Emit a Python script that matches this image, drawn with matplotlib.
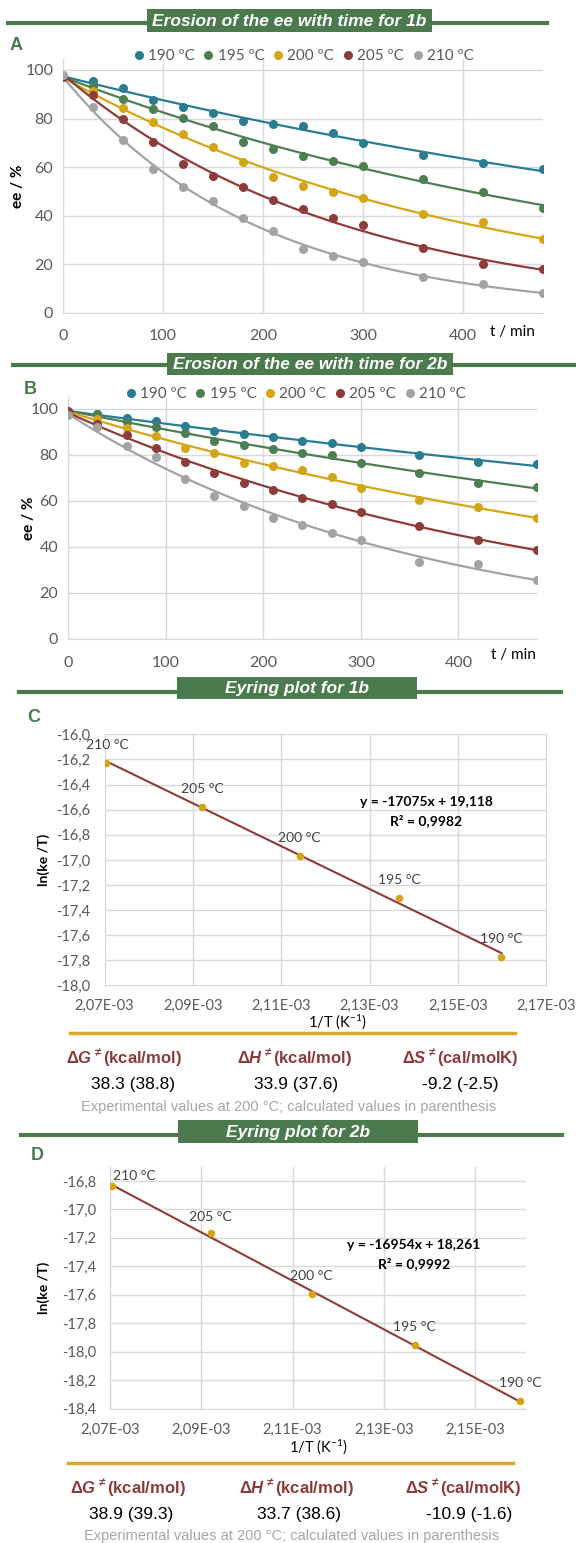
import numpy as np
import matplotlib
matplotlib.use("Agg")
import matplotlib.pyplot as plt
from matplotlib.patches import Rectangle
from matplotlib.lines import Line2D
from matplotlib.ticker import FixedLocator, FuncFormatter

plt.rcParams['mathtext.fontset'] = 'custom'
plt.rcParams['mathtext.it'] = 'Liberation Sans:bold:italic'
plt.rcParams['mathtext.rm'] = 'Liberation Sans:bold'
plt.rcParams['mathtext.bf'] = 'Liberation Sans:bold'

# ---------------- data ----------------
temps_label = ["190 ºC", "195 ºC", "200 ºC", "205 ºC", "210 ºC"]
times = [0, 30, 60, 90, 120, 150, 180, 210, 240, 270, 300, 360, 420, 480]

ee_1b_190 = [97.5, 95.5, 92.4, 87.8, 84.8, 82.2, 79.0, 77.9, 77.0, 74.1, 70.1, 65.0, 61.7, 59.3]
ee_1b_195 = [97.5, 93.5, 87.9, 84.0, 80.3, 76.8, 70.3, 67.6, 64.6, 62.3, 60.4, 55.2, 49.9, 43.3]
ee_1b_200 = [97.5, 91.5, 84.3, 78.6, 73.8, 68.3, 62.1, 56.0, 52.3, 49.9, 47.1, 40.7, 37.2, 30.2]
ee_1b_205 = [97.0, 89.5, 79.7, 70.3, 61.4, 56.3, 51.7, 46.4, 42.7, 39.1, 36.1, 26.5, 20.1, 18.1]
ee_1b_210 = [97.8, 84.9, 71.0, 59.0, 51.7, 46.2, 38.9, 33.7, 26.1, 23.4, 21.0, 14.8, 11.7, 8.0]

ee_2b_190 = [98.5, 97.7, 96.0, 94.6, 92.5, 90.6, 89.1, 88.0, 86.2, 85.1, 83.6, 80.0, 77.1, 75.9]
ee_2b_195 = [98.5, 97.6, 94.5, 92.0, 89.4, 86.2, 84.2, 82.6, 81.0, 80.0, 76.7, 72.3, 67.7, 66.1]
ee_2b_200 = [98.5, 95.5, 91.9, 88.3, 83.2, 81.0, 76.4, 75.4, 73.5, 70.3, 65.8, 60.4, 57.5, 52.8]
ee_2b_205 = [99.0, 93.5, 88.7, 82.9, 77.0, 72.0, 68.0, 64.8, 61.2, 58.6, 55.4, 49.3, 43.2, 38.8]
ee_2b_210 = [97.5, 92.3, 84.0, 79.0, 69.4, 62.2, 58.0, 52.8, 49.4, 46.1, 43.2, 33.5, 32.8, 25.5]

eyring_T = [210, 205, 200, 195, 190]          # °C
eyring_lbl = ["210 °C", "205 °C", "200 °C", "195 °C", "190 °C"]
ln_ke_T_1b = [-16.225, -16.58, -16.97, -17.306, -17.77]
ln_ke_T_2b = [-16.837, -17.169, -17.595, -17.955, -18.348]
eq_1b = ["y = -17075x + 19,118", "R² = 0,9982"]
eq_2b = ["y = -16954x + 18,261", "R² = 0,9992"]

ee_yticks = [0, 20, 40, 60, 80, 100]
ee_xticks = [0, 100, 200, 300, 400]
c_yticks = [-18.0, -17.8, -17.6, -17.4, -17.2, -17.0, -16.8, -16.6, -16.4, -16.2, -16.0]
c_xticks = [2.07e-3, 2.09e-3, 2.11e-3, 2.13e-3, 2.15e-3, 2.17e-3]
d_yticks = [-18.4, -18.2, -18.0, -17.8, -17.6, -17.4, -17.2, -17.0, -16.8]
d_xticks = [2.07e-3, 2.09e-3, 2.11e-3, 2.13e-3, 2.15e-3]

table_head = [r"$\mathit{\Delta G}^{\neq}$(kcal/mol)", r"$\mathit{\Delta H}^{\neq}$(kcal/mol)",
              r"$\mathit{\Delta S}^{\neq}$(cal/molK)"]
table_1b = ["38.3 (38.8)", "33.9 (37.6)", "-9.2 (-2.5)"]
table_2b = ["38.9 (39.3)", "33.7 (38.6)", "-10.9 (-1.6)"]
note = "Experimental values at 200 °C; calculated values in parenthesis"

# ---------------- style ----------------
W, H = 576, 1543
fig = plt.figure(figsize=(W / 100, H / 100), dpi=100)
series_colors = ['#2A7C92', '#4E7F52', '#D4A516', '#8E3B3B', '#A3A3A3']
banner_green = '#4A7A4E'
grid_c = '#D9D9D9'
tick_c = '#595959'
TF = 'Lato'
AF = 'Liberation Sans'


def rect(l, t, r, b):
    return [l / W, 1 - b / H, (r - l) / W, (b - t) / H]


def ftext(x, y, s, **kw):
    fig.text(x / W, 1 - y / H, s, **kw)


def banner(x0, x1, y0, y1, ly, lx0, lx1, s):
    fig.add_artist(Line2D([lx0 / W, lx1 / W], [1 - ly / H, 1 - ly / H], color=banner_green, lw=3))
    fig.add_artist(Rectangle((x0 / W, 1 - y1 / H), (x1 - x0) / W, (y1 - y0) / H,
                             facecolor=banner_green, edgecolor='none'))
    ftext((x0 + x1) / 2, (y0 + y1) / 2 + 0.5, s, ha='center', va='center', color='white',
          fontsize=12.5, fontweight='bold', style='italic', family=AF)


def ee_panel(rc, ymax, data, letter, lpos, legc, legy, ylab_pos, tmin_pos):
    ax = fig.add_axes(rect(*rc))
    tt = np.array(times, dtype=float)
    tf = np.linspace(0, 480, 300)
    handles = []
    for vals, col, lab in zip(data, series_colors, temps_label):
        v = np.array(vals)
        b, a = np.polyfit(tt, np.log(v), 1)
        ax.plot(tf, np.exp(a) * np.exp(b * tf), color=col, lw=1.6, zorder=3)
        ax.plot(tt, v, 'o', color=col, ms=6.5, zorder=4, mec='none')
        handles.append(Line2D([], [], marker='o', ls='none', color=col, ms=6.5, mec='none', label=lab))
    ax.set_xlim(0, 480)
    ax.set_ylim(0, ymax)
    ax.xaxis.set_major_locator(FixedLocator(ee_xticks))
    ax.yaxis.set_major_locator(FixedLocator(ee_yticks))
    ax.grid(True, color=grid_c, lw=1)
    ax.set_axisbelow(True)
    for s in ['top', 'right']:
        ax.spines[s].set_visible(False)
    for s in ['left', 'bottom']:
        ax.spines[s].set_color(grid_c)
    ax.tick_params(length=0, labelsize=11.5, labelcolor=tick_c, pad=12)
    ax.tick_params(axis='y', pad=7)
    for lbl in ax.get_xticklabels() + ax.get_yticklabels():
        lbl.set_family(TF)
    ftext(lpos[0], lpos[1], letter, color=banner_green, fontsize=13, fontweight='bold',
          family=AF, ha='center', va='center')
    fig.legend(handles=handles, loc='center', bbox_to_anchor=(legc / W, 1 - legy / H), ncol=5,
               frameon=False, handlelength=0.6, handletextpad=0.3, columnspacing=0.6,
               prop={'family': TF, 'size': 11}, labelcolor=tick_c)
    ftext(ylab_pos[0], ylab_pos[1], "ee / %", rotation=90, ha='center', va='center',
          fontsize=11, fontweight='bold', family=TF, color='black')
    ftext(tmin_pos[0], tmin_pos[1], "t / min", ha='center', va='center',
          fontsize=11, family=TF, color='black')
    return ax


ee_panel((63, 59.3, 543, 312.7), 104.4,
         [ee_1b_190, ee_1b_195, ee_1b_200, ee_1b_205, ee_1b_210],
         "A", (16.5, 45), 304, 56, (18, 186), (512, 332))
ee_panel((68, 396.7, 536.5, 639), 105.3,
         [ee_2b_190, ee_2b_195, ee_2b_200, ee_2b_205, ee_2b_210],
         "B", (30, 389), 296, 394, (29, 518), (513, 655))

banner(146.7, 432.3, 9, 32, 23, 8, 547, "Erosion of the ee with time for 1b")
banner(167, 453, 353, 375, 365, 13, 576, "Erosion of the ee with time for 2b")
banner(177, 417, 677, 699, 691.7, 19, 561, "Eyring plot for 1b")
banner(178, 418, 1120, 1143, 1135, 21, 562, "Eyring plot for 2b")


def eyring_panel(rc, xlim, ylim, xt, yt, lnv, eq, eqpos, letter, lpos, ylab_pos, xlab_pos,
                 lab_off, box):
    ax = fig.add_axes(rect(*rc))
    x = 1.0 / (np.array(eyring_T, dtype=float) + 273.0)
    y = np.array(lnv)
    m, c = np.polyfit(x, y, 1)
    xl = np.array([x.min(), x.max()])
    ax.plot(xl, m * xl + c, color='#8E3B3B', lw=1.5, zorder=3)
    ax.plot(x, y, 'o', color='#D4A516', ms=5.5, mec='none', zorder=4)
    for xi, yi, lb, off in zip(x, y, eyring_lbl, lab_off):
        ax.annotate(lb, (xi, yi), xytext=off, textcoords='offset points', ha='center',
                    va='center', fontsize=10, family=TF, color='#404040')
    ax.set_xlim(*xlim)
    ax.set_ylim(*ylim)
    ax.xaxis.set_major_locator(FixedLocator(xt))
    ax.yaxis.set_major_locator(FixedLocator(yt))
    ax.xaxis.set_major_formatter(FuncFormatter(lambda v, p: f"{v:.2E}".replace('.', ',')))
    ax.yaxis.set_major_formatter(FuncFormatter(lambda v, p: f"{v:.1f}".replace('.', ',')))
    ax.grid(True, color=grid_c, lw=1)
    ax.set_axisbelow(True)
    for s in ax.spines.values():
        s.set_color(grid_c)
    if not box:
        ax.spines['top'].set_visible(False)
        ax.spines['right'].set_visible(False)
    ax.tick_params(length=0, labelsize=10.5, labelcolor=tick_c, pad=10)
    for lbl in ax.get_xticklabels() + ax.get_yticklabels():
        lbl.set_family(TF)
    ftext(eqpos[0], eqpos[1], eq[0], ha='center', va='center', fontsize=10,
          fontweight='bold', family=TF)
    ftext(eqpos[0], eqpos[1] + 18.5, eq[1], ha='center', va='center', fontsize=10,
          fontweight='bold', family=TF)
    ftext(lpos[0], lpos[1], letter, color=banner_green, fontsize=13, fontweight='bold',
          family=AF, ha='center', va='center')
    ftext(ylab_pos[0], ylab_pos[1], "ln(ke /T)", rotation=90, ha='center', va='center',
          fontsize=10, fontweight='bold', family=TF)
    ftext(xlab_pos[0], xlab_pos[1], "1/T (K$^{\\mathregular{-1}}$)", ha='center', va='center',
          fontsize=10.5, family=TF)
    return ax


eyring_panel((104.5, 734.3, 546.4, 985.5), (2.07e-3, 2.17e-3), (-18.0, -16.0), c_xticks,
             c_yticks, ln_ke_T_1b, eq_1b, (426, 802), "C", (34, 717), (44, 860),
             (337, 1022), [(1, 13), (0, 13), (0, 13), (0, 13), (0, 13)], True)
eyring_panel((110, 1166.7, 526.1, 1408.7), (2.07e-3, 2.16116e-3), (-18.4, -16.70), d_xticks,
             d_yticks, ln_ke_T_2b, eq_2b, (414, 1245), "D", (37, 1155), (44, 1288),
             (318, 1447), [(16, 7), (0, 12), (0, 13), (0, 13), (0, 13)], False)


def table(ly, lx0, lx1, hy, hx, vy, vx, vals, ny, nx):
    fig.add_artist(Line2D([lx0 / W, lx1 / W], [1 - ly / H, 1 - ly / H], color='#D4A82A', lw=2.5))
    for s, x in zip(table_head, hx):
        ftext(x, hy, s, ha='center', va='center', fontsize=12, fontweight='bold',
              color='#8B3A3A', family=AF)
    for s, x in zip(vals, vx):
        ftext(x, vy, s, ha='center', va='center', fontsize=12.5, color='black', family=AF)
    ftext(nx, ny, note, ha='center', va='center', fontsize=10.5, color='#A6A6A6', family=AF)


table(1033, 70, 515, 1057, [124, 294, 460], 1085, [133, 296, 460], table_1b, 1107, 289)
table(1463, 68, 513, 1487, [128, 296, 463], 1515, [131, 299, 469], table_2b, 1536, 291.5)

fig.savefig("out.png", dpi=100)
